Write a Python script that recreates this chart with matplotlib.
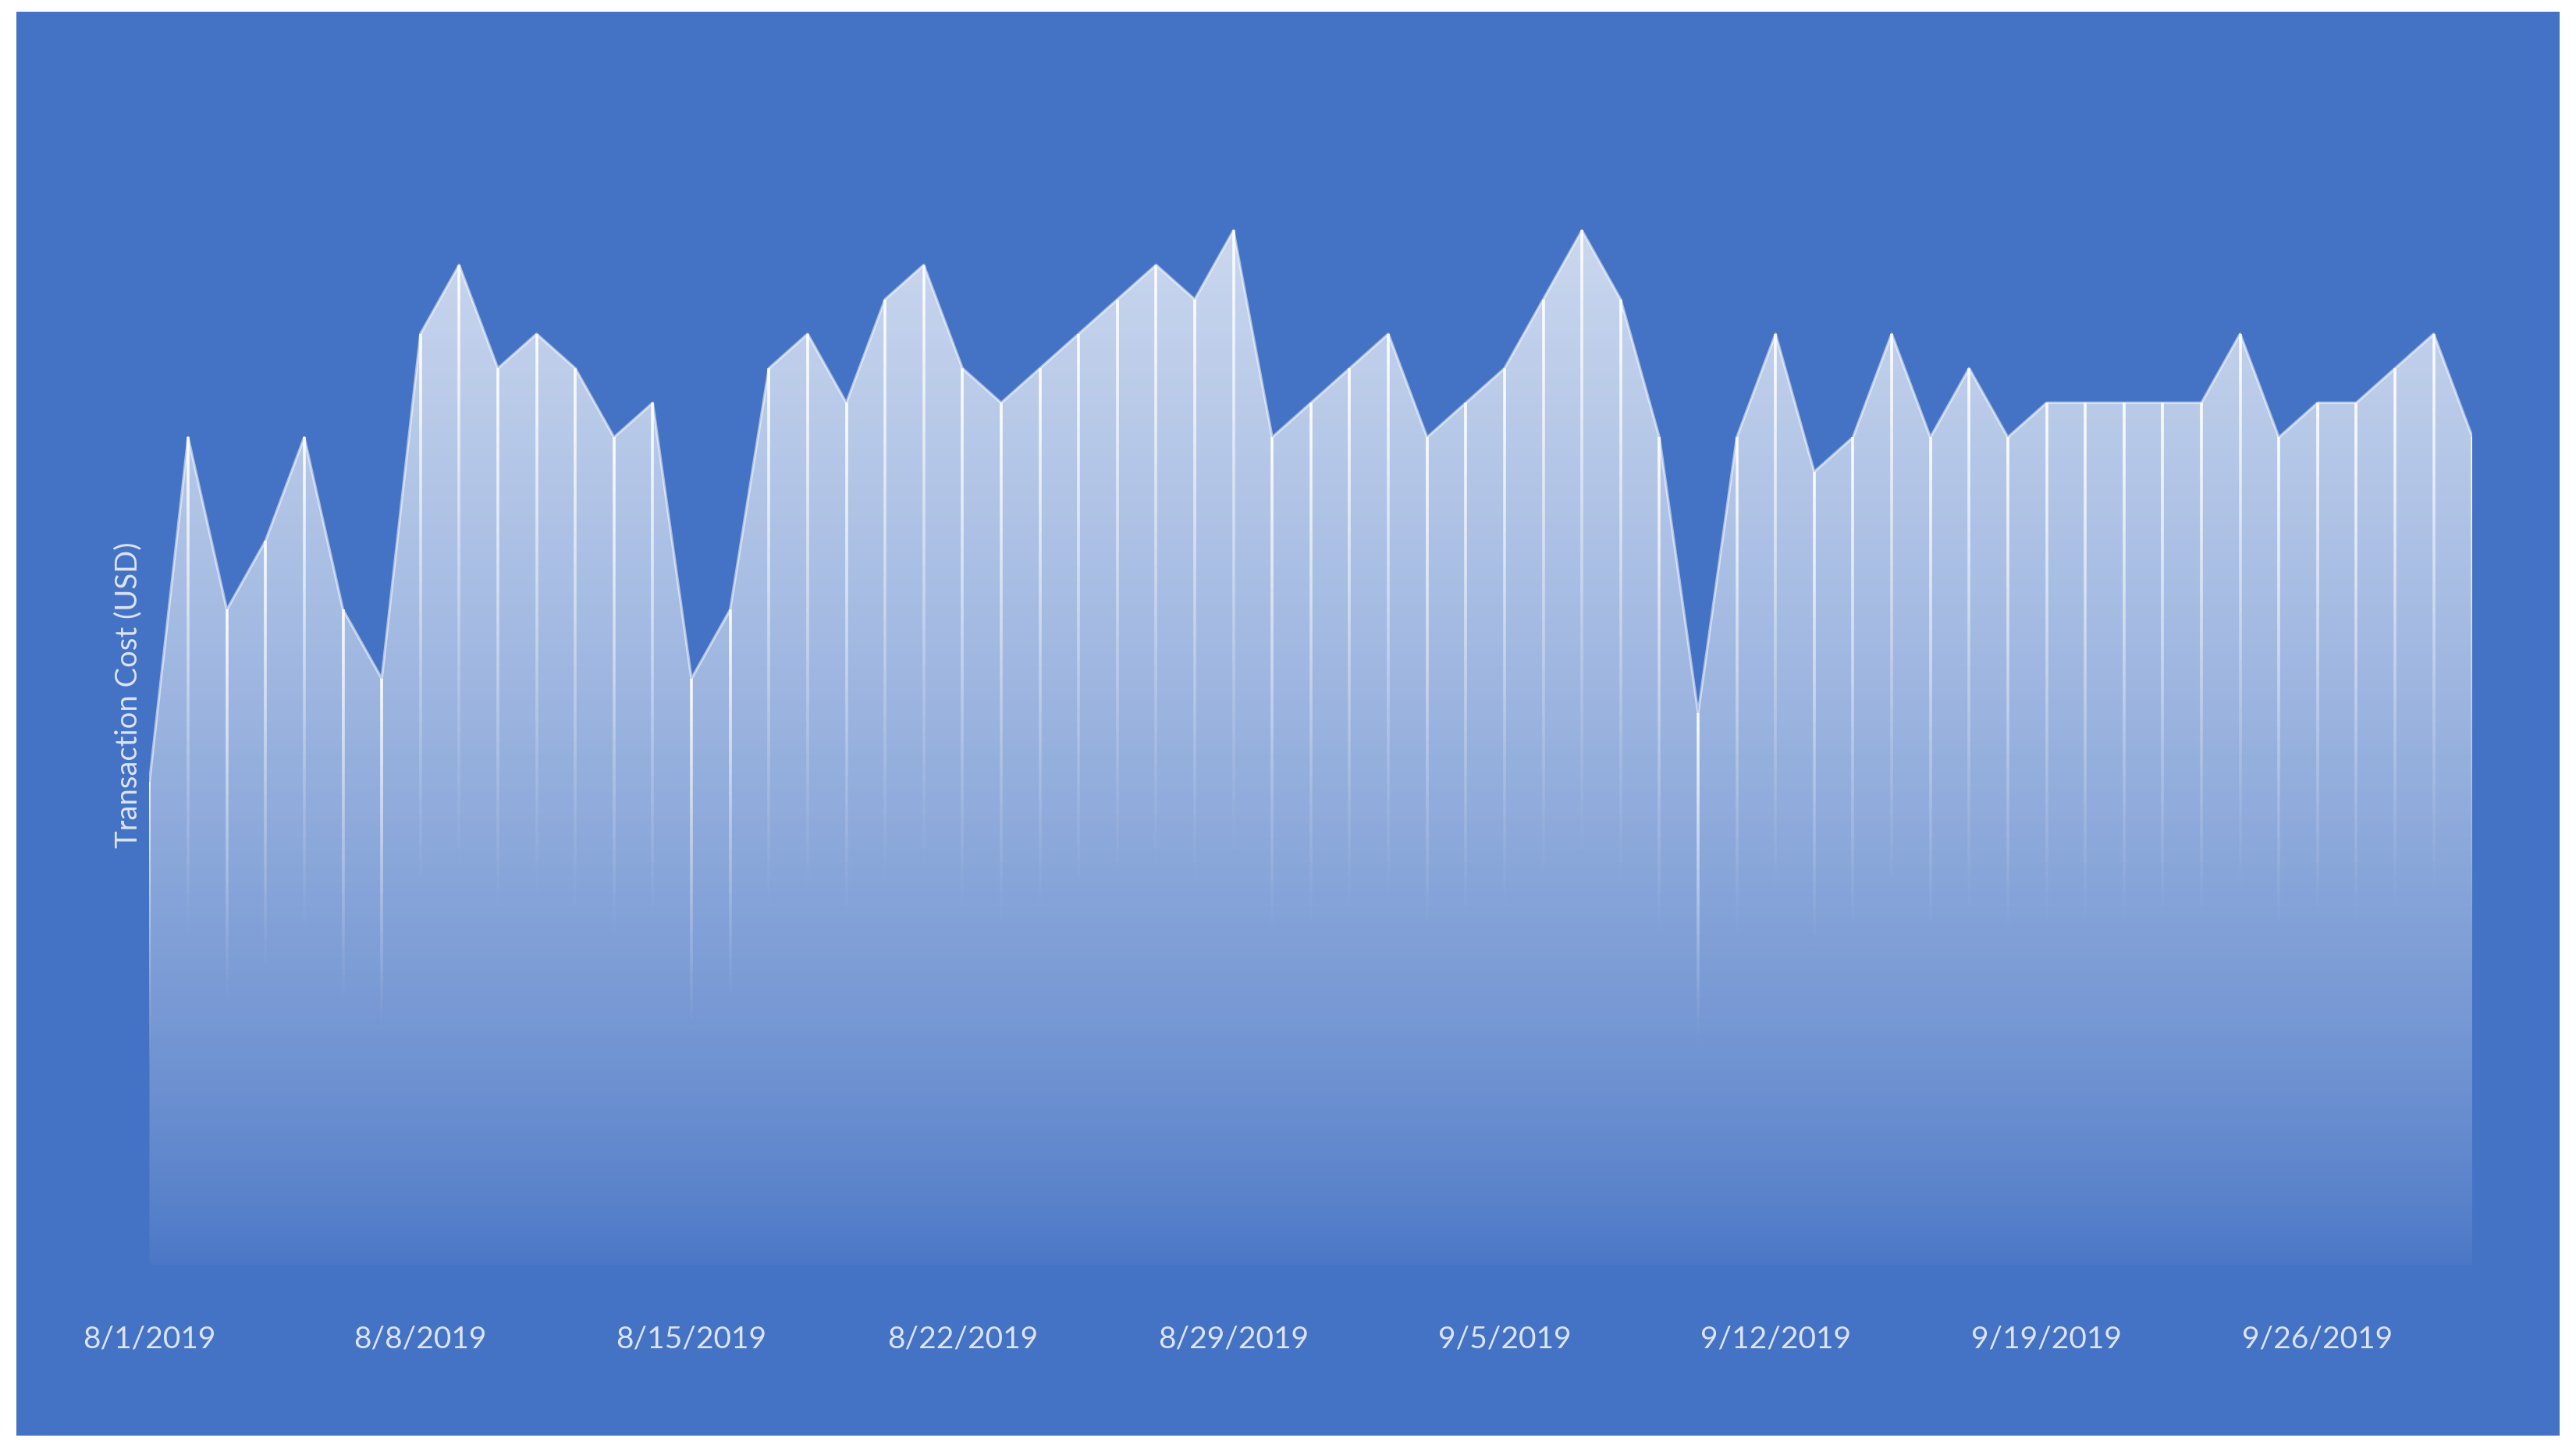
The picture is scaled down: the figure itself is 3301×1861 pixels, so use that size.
import numpy as np
import pandas as pd
import matplotlib
matplotlib.use("Agg")
import matplotlib.pyplot as plt
from matplotlib.collections import LineCollection
from matplotlib.patches import Rectangle

# daily transaction cost, 8/1/2019 - 9/30/2019
dates = pd.date_range("2019-08-01", "2019-09-30", freq="D")
cost = [14, 24, 19, 21, 24, 19, 17, 27, 29, 26,
        27, 26, 24, 25, 17, 19, 26, 27, 25, 28,
        29, 26, 25, 26, 27, 28, 29, 28, 30, 24,
        25, 26, 27, 24, 25, 26, 28, 30, 28, 24,
        16, 24, 27, 23, 24, 27, 24, 26, 24, 25,
        25, 25, 25, 25, 27, 24, 25, 25, 26, 27,
        24]
tick_every = 7

BG = "#4472C4"
TXT = "#DCE4F3"
plt.rcParams["font.family"] = ["Lato", "DejaVu Sans"]

x = np.arange(len(dates))
y = np.array(cost, dtype=float)
ymax = y.max()

fig = plt.figure(figsize=(33.01, 18.61), dpi=100, facecolor="white")
fig.patches.append(Rectangle((21 / 3301, 21 / 1861), 3259 / 3301, 1825 / 1861,
                             transform=fig.transFigure, facecolor=BG,
                             edgecolor="none", zorder=-10))

ax = fig.add_axes([0.058, 0.129, 0.9018, 0.831])
ax.set_facecolor("none")
ax.set_zorder(1)

# gradient area: white fading to transparent towards the baseline
poly = ax.fill_between(x, y, -0.4, color="none")
g = np.linspace(0, 1, 512)
img = np.ones((512, 1, 4))
img[:, 0, 3] = 0.72 * g ** 0.7
im = ax.imshow(img, extent=[x[0], x[-1], -0.4, ymax], origin="lower",
               aspect="auto", interpolation="bilinear", zorder=1)
im.set_clip_path(poly.get_paths()[0], ax.transData)

# top edge
ax.plot(x, y, color="white", alpha=0.55, lw=2.4, zorder=3)

# fading drop lines
segs, cols = [], []
n = 60
for xi, yi in zip(x, y):
    t = np.linspace(0, 1, n + 1)
    for k in range(n):
        a = 0.92 * np.clip((t[k + 1] - 0.4) / 0.6, 0, 1) ** 1.2
        segs.append([(xi, yi * t[k]), (xi, yi * t[k + 1])])
        cols.append((1, 1, 1, a))
ax.add_collection(LineCollection(segs, colors=cols, linewidths=2.6,
                                 capstyle="butt", zorder=2))

ax.set_xlim(x[0], x[-1])
ax.set_ylim(0, 35)
ax.set_xticks(x[::tick_every])
ax.set_xticklabels([f"{d.month}/{d.day}/{d.year}" for d in dates[::tick_every]],
                   color=TXT, fontsize=28)
ax.tick_params(axis="x", length=0, pad=56)
ax.set_yticks([])
ax.set_ylabel("Transaction Cost (USD)", color=TXT, fontsize=27.5)
ax.yaxis.set_label_coords(-0.003, 0.472)
for s in ax.spines.values():
    s.set_visible(False)

fig.savefig("out.png", dpi=100, facecolor="white")
